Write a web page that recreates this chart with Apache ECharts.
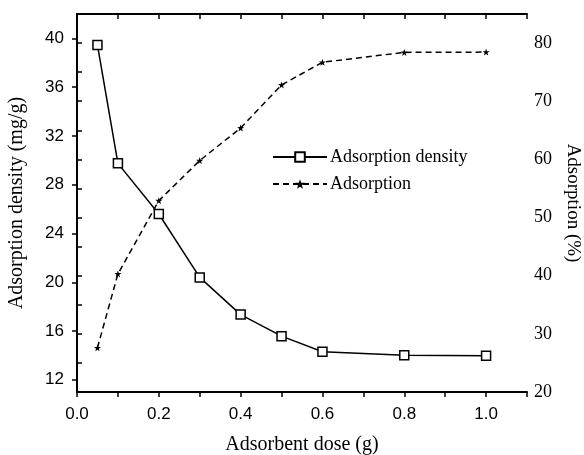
<!DOCTYPE html>
<html>
<head>
<meta charset="utf-8">
<script src="https://cdn.jsdelivr.net/npm/echarts@6/dist/echarts.min.js"></script>
<style>
  html, body { margin: 0; padding: 0; background: #fff; }
  #chart { width: 584px; height: 455px; }
</style>
</head>
<body>
<div id="chart"></div>
<script>
// Adsorbent dose (g)
const doses = [0.05, 0.1, 0.2, 0.3, 0.4, 0.5, 0.6, 0.8, 1.0];
// Adsorption density (mg/g), left axis
const densityValues = [39.45, 29.75, 25.6, 20.4, 17.35, 15.58, 14.3, 14.02, 13.97];
// Adsorption (%), right axis
const adsorptionValues = [27.6, 40.3, 52.9, 59.8, 65.4, 72.8, 76.7, 78.4, 78.45];

// Axis ranges
const densityMin = 11, densityMax = 42;
// Labelled ticks on the left axis: 12, 16, ..., 40
const densityTickMin = 12, densityTickMax = 40, densityTickStep = 4;

const serif = '"Liberation Serif", "Times New Roman", serif';
const sans = '"Liberation Sans", Arial, sans-serif';

const pairs = (xs, ys) => xs.map((x, i) => [x, ys[i]]);

const chart = echarts.init(document.getElementById('chart'), null, { renderer: 'canvas' });

// Plot frame
const gLeft = 77, gRight = 57, gTop = 14, gBottom = 63;
const plotH = 455 - gTop - gBottom;
const pxPerUnit = plotH / (densityMax - densityMin);
// A second grid covering exactly 12..40 carries the left ticks and labels
const tickGridTop = gTop + (densityMax - densityTickMax) * pxPerUnit;
const tickGridBottom = gBottom + (densityTickMin - densityMin) * pxPerUnit;

const axisLine = { show: true, lineStyle: { color: '#000', width: 2 } };
const tickStyle = { color: '#000', width: 1.5 };

chart.setOption({
  animation: false,
  backgroundColor: '#fff',
  grid: [
    { left: gLeft, right: gRight, top: gTop, bottom: gBottom,
      containLabel: false, outerBoundsMode: 'none' },
    { left: gLeft, right: gRight, top: tickGridTop, bottom: tickGridBottom,
      containLabel: false, outerBoundsMode: 'none' }
  ],
  legend: {
    orient: 'vertical',
    left: 267,
    top: 143,
    itemWidth: 54,
    itemHeight: 12,
    itemGap: 9,
    textStyle: { fontFamily: serif, fontSize: 18, color: '#000', padding: [0, 0, 0, -2] },
    data: ['Adsorption density', 'Adsorption']
  },
  xAxis: [
    {
      type: 'value', gridIndex: 0, position: 'bottom', min: 0, max: 1.1, interval: 0.1,
      axisLine: axisLine,
      axisTick: { show: true, inside: false, length: 5, lineStyle: tickStyle },
      axisLabel: {
        fontFamily: sans, fontSize: 17, color: '#000', margin: 14,
        formatter: v => (Math.round(v * 10) % 2 === 0 && v < 1.05) ? v.toFixed(1) : ''
      },
      splitLine: { show: false },
      name: 'Adsorbent dose (g)', nameLocation: 'middle', nameGap: 43,
      nameTextStyle: { fontFamily: serif, fontSize: 20, color: '#000' }
    },
    {
      type: 'value', gridIndex: 0, position: 'top', min: 0, max: 1.1, interval: 0.1,
      axisLine: axisLine,
      axisTick: { show: true, inside: true, length: 5, lineStyle: tickStyle },
      axisLabel: { show: false },
      splitLine: { show: false }
    },
    {
      type: 'value', gridIndex: 1, show: false, min: 0, max: 1.1
    }
  ],
  yAxis: [
    {
      type: 'value', gridIndex: 0, position: 'left', min: densityMin, max: densityMax,
      axisLine: axisLine,
      axisTick: { show: false },
      axisLabel: { show: false },
      splitLine: { show: false },
      name: 'Adsorption density (mg/g)', nameLocation: 'middle', nameGap: 50,
      nameTextStyle: { fontFamily: serif, fontSize: 20, color: '#000' }
    },
    {
      type: 'value', gridIndex: 0, position: 'right', min: 20, max: 85, interval: 5,
      axisLine: axisLine,
      axisTick: { show: true, inside: false, length: 5, lineStyle: tickStyle },
      axisLabel: {
        fontFamily: serif, fontSize: 18, color: '#000', margin: 7,
        formatter: v => (v % 10 === 0 && v <= 80) ? String(v) : ''
      },
      splitLine: { show: false },
      name: 'Adsorption (%)', nameLocation: 'middle', nameGap: 36, nameRotate: -90,
      nameTextStyle: { fontFamily: serif, fontSize: 19, color: '#000' }
    },
    {
      type: 'value', gridIndex: 1, position: 'left',
      min: densityTickMin, max: densityTickMax, interval: densityTickStep,
      axisLine: { show: false },
      axisTick: { show: true, inside: false, length: 5, lineStyle: tickStyle },
      axisLabel: { fontFamily: sans, fontSize: 17, color: '#000', margin: 13 },
      splitLine: { show: false }
    }
  ],
  series: [
    {
      name: 'Adsorption density',
      type: 'line',
      xAxisIndex: 0, yAxisIndex: 0,
      data: pairs(doses, densityValues),
      symbol: 'rect', symbolSize: 9,
      itemStyle: { color: '#fff', borderColor: '#000', borderWidth: 1.5 },
      lineStyle: { color: '#000', width: 1.5, type: 'solid' },
      z: 3
    },
    {
      name: 'Adsorption',
      type: 'line',
      xAxisIndex: 0, yAxisIndex: 1,
      data: pairs(doses, adsorptionValues),
      symbol: 'path://M0,-10 L2.35,-3.24 L9.51,-3.09 L3.8,1.24 L5.88,8.09 L0,4 L-5.88,8.09 L-3.8,1.24 L-9.51,-3.09 L-2.35,-3.24 Z',
      symbolSize: 7,
      itemStyle: { color: '#000', borderColor: '#000', borderWidth: 0 },
      lineStyle: { color: '#000', width: 1.5, type: [6, 4] },
      z: 2
    }
  ]
});
</script>
</body>
</html>
